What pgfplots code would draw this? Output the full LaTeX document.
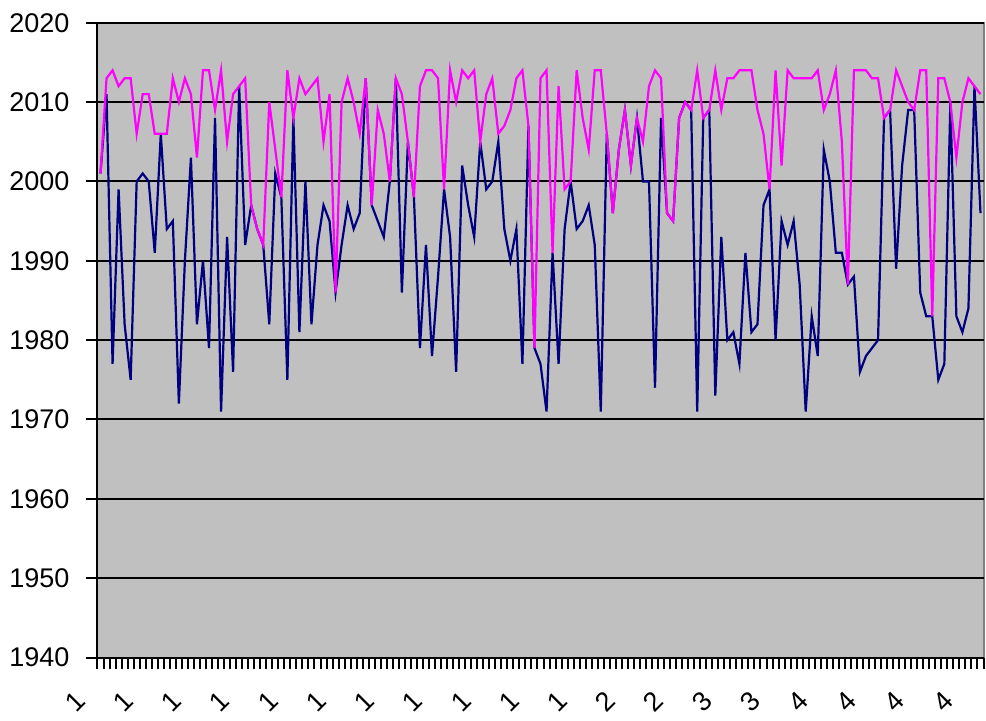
\documentclass[border=0pt]{standalone}
\usepackage{fontspec}
\setmainfont{Liberation Sans}
\usepackage{pgfplots}
\usepackage{pgfplotstable}
\pgfplotsset{compat=1.18}

\definecolor{plotgray}{HTML}{C0C0C0}
\definecolor{framegray}{HTML}{808080}
\definecolor{lownavy}{HTML}{000080}
\definecolor{highmag}{HTML}{FF00FF}

% i, low (navy), high (magenta)
\pgfplotstableread{
i lo hi
1 2001 2001
2 2011 2013
3 1977 2014
4 1999 2012
5 1982 2013
6 1975 2013
7 2000 2006
8 2001 2011
9 2000 2011
10 1991 2006
11 2006 2006
12 1994 2006
13 1995 2013
14 1972 2010
15 1990 2013
16 2003 2011
17 1982 2003
18 1990 2014
19 1979 2014
20 2008 2009
21 1971 2014
22 1993 2005
23 1976 2011
24 2012 2012
25 1992 2013
26 1997 1997
27 1994 1994
28 1992 1992
29 1982 2010
30 2001 2004
31 1998 1998
32 1975 2014
33 2008 2008
34 1981 2013
35 2000 2011
36 1982 2012
37 1992 2013
38 1997 2005
39 1995 2011
40 1986 1986
41 1992 2010
42 1997 2013
43 1994 2010
44 1996 2006
45 2013 2013
46 1997 1997
47 1995 2009
48 1993 2006
49 2000 2000
50 2013 2013
51 1986 2011
52 2005 2005
53 1998 1998
54 1979 2012
55 1992 2014
56 1978 2014
57 1988 2013
58 1999 1999
59 1993 2014
60 1976 2010
61 2002 2014
62 1997 2013
63 1993 2014
64 2005 2005
65 1999 2011
66 2000 2013
67 2005 2006
68 1994 2007
69 1990 2009
70 1994 2013
71 1977 2014
72 2007 2007
73 1979 1979
74 1977 2013
75 1971 2014
76 1991 1991
77 1977 2012
78 1994 1999
79 2000 2000
80 1994 2014
81 1995 2008
82 1997 2004
83 1992 2014
84 1971 2014
85 2006 2006
86 1996 1996
87 2004 2004
88 2009 2009
89 2002 2002
90 2008 2008
91 2000 2005
92 2000 2012
93 1974 2014
94 2008 2013
95 1996 1996
96 1995 1995
97 2008 2008
98 2010 2010
99 2009 2009
100 1971 2014
101 2008 2008
102 2009 2009
103 1973 2014
104 1993 2009
105 1980 2013
106 1981 2013
107 1977 2014
108 1991 2014
109 1981 2014
110 1982 2009
111 1997 2006
112 1999 1999
113 1980 2014
114 1995 2002
115 1992 2014
116 1995 2013
117 1987 2013
118 1971 2013
119 1983 2013
120 1978 2014
121 2004 2009
122 2000 2011
123 1991 2014
124 1991 2005
125 1987 1987
126 1988 2014
127 1976 2014
128 1978 2014
129 1979 2013
130 1980 2013
131 2008 2008
132 2009 2009
133 1989 2014
134 2002 2012
135 2009 2010
136 2009 2009
137 1986 2014
138 1983 2014
139 1983 1983
140 1975 2013
141 1977 2013
142 2010 2010
143 1983 2003
144 1981 2010
145 1984 2013
146 2012 2012
147 1996 2011
}\yeardata

\begin{document}
\begin{tikzpicture}[font=\fontsize{13.5}{16}\selectfont]
\begin{axis}[
    scale only axis,
    width=443pt, height=317.4pt,
    xmin=0.5, xmax=147.5,
    ymin=1940, ymax=2020,
    axis x line*=bottom, axis y line*=left,
    axis line style={black, line width=1pt},
    axis background/.style={fill=plotgray, draw=framegray, line width=1pt},
    ytick={1940,1950,...,2020},
    ymajorgrids,
    grid style={black, line width=1pt},
    tick align=outside,
    major tick length=5.5pt,
    tick style={black, line width=1pt},
    xtick={0.5,1.5,...,147.5},
    xticklabels={},
    extra x ticks={1,9,...,145},
    extra x tick labels={1,1,1,1,1,1,1,1,1,1,1,2,2,3,3,4,4,4,4},
    extra x tick style={
        tick style={draw=none},
        xticklabel style={anchor=center, xshift=-12.75pt, yshift=-16.5pt, rotate=45}
    },
    /pgf/number format/1000 sep={},
    /pgf/number format/assume math mode=true,
    yticklabel style={anchor=east, xshift=-5pt},
    clip=false,
]
\addplot[lownavy, line width=1.1pt] table[x=i, y=lo] {\yeardata};
\addplot[highmag, line width=1.1pt] table[x=i, y=hi] {\yeardata};
\end{axis}
\pgfresetboundingbox
\useasboundingbox (-48.75pt,-31.25pt) rectangle (444.25pt,328.75pt);
\end{tikzpicture}
\end{document}
